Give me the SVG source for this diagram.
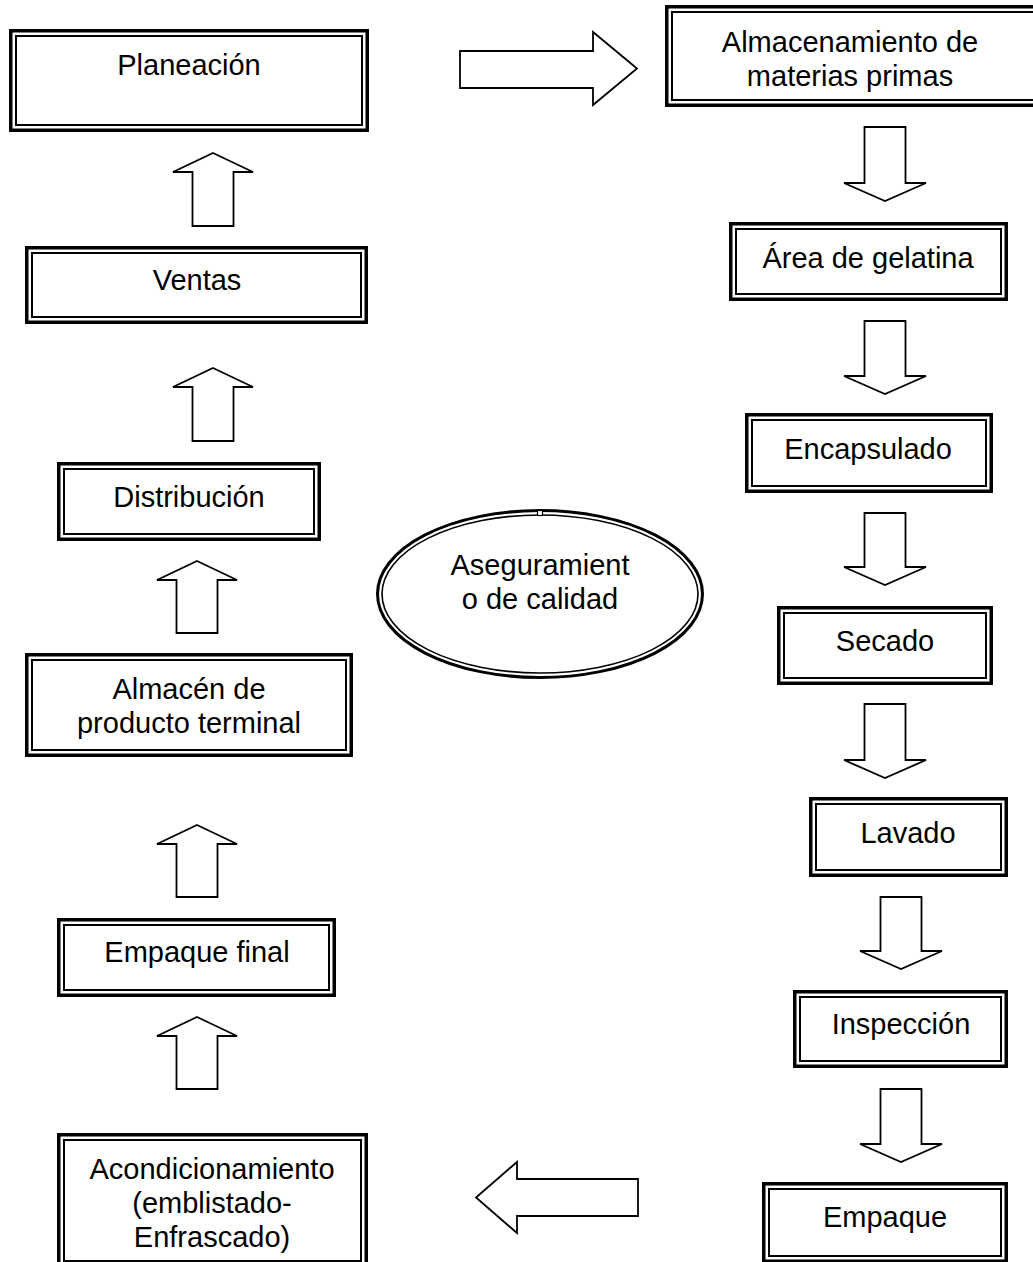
<svg xmlns="http://www.w3.org/2000/svg" width="1033" height="1262" viewBox="0 0 1033 1262">
<style>
.o{fill:#fff;stroke:#000;stroke-width:3.5}
.i{fill:none;stroke:#000;stroke-width:2}
.t{font-family:"Liberation Sans",Arial,sans-serif;font-size:29px;text-anchor:middle;fill:#000}
.a{fill:#fff;stroke:#000;stroke-width:1.8;stroke-linejoin:miter}
</style>
<rect width="1033" height="1262" fill="#fff"/>
<g id="connectors">
<path class="a" d="M460,51 L593,51 L593,32 L637,68.5 L593,105 L593,88 L460,88 Z"/>
<path class="a" d="M213,153 L253,172 L233.5,172 L233.5,226 L192.5,226 L192.5,172 L173,172 Z"/>
<path class="a" d="M213,368 L253,387 L233.5,387 L233.5,441 L192.5,441 L192.5,387 L173,387 Z"/>
<path class="a" d="M197,561 L237,580 L217.5,580 L217.5,633 L176.5,633 L176.5,580 L157,580 Z"/>
<path class="a" d="M197,825 L237,844 L217.5,844 L217.5,897 L176.5,897 L176.5,844 L157,844 Z"/>
<path class="a" d="M197,1017 L237,1036 L217.5,1036 L217.5,1089 L176.5,1089 L176.5,1036 L157,1036 Z"/>
<path class="a" d="M864.5,127 L905.5,127 L905.5,183 L926,183 L885,201 L844,183 L864.5,183 Z"/>
<path class="a" d="M864.5,321 L905.5,321 L905.5,376 L926,376 L885,394 L844,376 L864.5,376 Z"/>
<path class="a" d="M864.5,513 L905.5,513 L905.5,567 L926,567 L885,585 L844,567 L864.5,567 Z"/>
<path class="a" d="M864.5,704 L905.5,704 L905.5,760 L926,760 L885,778 L844,760 L864.5,760 Z"/>
<path class="a" d="M880.5,897 L921.5,897 L921.5,951 L942,951 L901,969 L860,951 L880.5,951 Z"/>
<path class="a" d="M880.5,1089 L921.5,1089 L921.5,1144 L942,1144 L901,1162 L860,1144 L880.5,1144 Z"/>
<path class="a" d="M638,1179 L517,1179 L517,1162 L476,1197.5 L517,1233 L517,1216 L638,1216 Z"/>
</g>
<g id="planeacion">
<rect class="o" x="10.75" y="30.75" width="356.5" height="99.5"/>
<rect class="i" x="16" y="36" width="346" height="89"/>
<text class="t" x="189" y="75">Planeación</text>
</g>
<g id="ventas">
<rect class="o" x="26.75" y="247.75" width="339.5" height="74.5"/>
<rect class="i" x="32" y="253" width="329" height="64"/>
<text class="t" x="197" y="290">Ventas</text>
</g>
<g id="distribucion">
<rect class="o" x="58.75" y="463.75" width="260.5" height="75.5"/>
<rect class="i" x="64" y="469" width="250" height="65"/>
<text class="t" x="189" y="507">Distribución</text>
</g>
<g id="almacen-producto">
<rect class="o" x="26.75" y="654.75" width="324.5" height="100.5"/>
<rect class="i" x="32" y="660" width="314" height="90"/>
<text class="t" x="189" y="699">Almacén de</text>
<text class="t" x="189" y="733">producto terminal</text>
</g>
<g id="empaque-final">
<rect class="o" x="58.75" y="919.75" width="275.5" height="75.5"/>
<rect class="i" x="64" y="925" width="265" height="65"/>
<text class="t" x="197" y="962">Empaque final</text>
</g>
<g id="acondicionamiento">
<rect class="o" x="58.75" y="1134.75" width="307.5" height="131.5"/>
<rect class="i" x="64" y="1140" width="297" height="121"/>
<text class="t" x="212" y="1179">Acondicionamiento</text>
<text class="t" x="212" y="1213">(emblistado-</text>
<text class="t" x="212" y="1247">Enfrascado)</text>
</g>
<g id="almacenamiento">
<rect class="o" x="666.75" y="6.75" width="373.5" height="98.5"/>
<rect class="i" x="672" y="12" width="363" height="88"/>
<text class="t" x="850" y="52">Almacenamiento de</text>
<text class="t" x="850" y="86">materias primas</text>
</g>
<g id="area-gelatina">
<rect class="o" x="730.75" y="223.75" width="275.5" height="75.5"/>
<rect class="i" x="736" y="229" width="265" height="65"/>
<text class="t" x="868" y="268">Área de gelatina</text>
</g>
<g id="encapsulado">
<rect class="o" x="746.75" y="414.75" width="244.5" height="76.5"/>
<rect class="i" x="752" y="420" width="234" height="66"/>
<text class="t" x="868" y="459">Encapsulado</text>
</g>
<g id="secado">
<rect class="o" x="778.75" y="607.75" width="212.5" height="75.5"/>
<rect class="i" x="784" y="613" width="202" height="65"/>
<text class="t" x="885" y="651">Secado</text>
</g>
<g id="lavado">
<rect class="o" x="810.75" y="798.75" width="195.5" height="76.5"/>
<rect class="i" x="816" y="804" width="185" height="66"/>
<text class="t" x="908" y="843">Lavado</text>
</g>
<g id="inspeccion">
<rect class="o" x="794.75" y="991.75" width="211.5" height="74.5"/>
<rect class="i" x="800" y="997" width="201" height="64"/>
<text class="t" x="901" y="1034">Inspección</text>
</g>
<g id="empaque">
<rect class="o" x="763.75" y="1183.75" width="242.5" height="77.5"/>
<rect class="i" x="769" y="1189" width="232" height="67"/>
<text class="t" x="885" y="1227">Empaque</text>
</g>
<g id="aseguramiento">
<ellipse cx="540" cy="594" rx="162.5" ry="83.5" fill="#fff" stroke="#000" stroke-width="3"/>
<ellipse cx="540" cy="594" rx="158" ry="79" fill="none" stroke="#000" stroke-width="1.6"/>
<rect x="537.5" y="510.5" width="5" height="5" fill="#fff" stroke="#000" stroke-width="1.2"/>
<text class="t" x="540" y="575">Aseguramient</text>
<text class="t" x="540" y="609">o de calidad</text>
</g>
</svg>
